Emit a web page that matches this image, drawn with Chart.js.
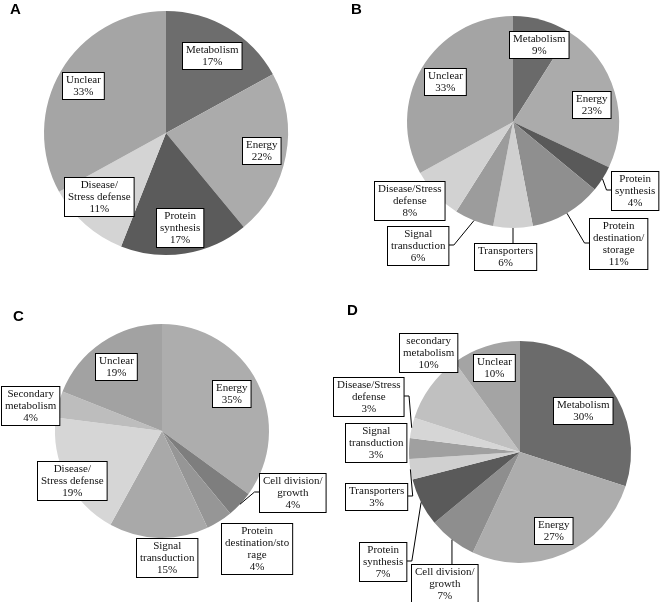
<!DOCTYPE html>
<html>
<head>
<meta charset="utf-8">
<script src="https://cdn.jsdelivr.net/npm/chart.js@4.4.1/dist/chart.umd.min.js"></script>
<style>
  body { margin: 0; background: #fff; }
  #wrap { position: relative; width: 660px; height: 602px; }
  .panel { position: absolute; }
  .tag { position: absolute; font: bold 15px "Liberation Sans", Arial, sans-serif; color: #000; }
</style>
</head>
<body>
<div id="wrap">
  <div class="panel" style="left:0;top:0;width:330px;height:301px"><canvas id="chartA"></canvas></div>
  <div class="panel" style="left:330px;top:0;width:330px;height:301px"><canvas id="chartB"></canvas></div>
  <div class="panel" style="left:0;top:301px;width:330px;height:301px"><canvas id="chartC"></canvas></div>
  <div class="panel" style="left:330px;top:301px;width:330px;height:301px"><canvas id="chartD"></canvas></div>
  <div class="tag" style="left:10px;top:0px">A</div>
  <div class="tag" style="left:351px;top:0px">B</div>
  <div class="tag" style="left:13px;top:307px">C</div>
  <div class="tag" style="left:347px;top:301px">D</div>
</div>
<script>
// ---- data (percent of identified proteins) ----
const catsA = ['Metabolism', 'Energy', 'Protein\nsynthesis', 'Disease/\nStress defense', 'Unclear'];
const valsA = [17, 22, 17, 11, 33];

const catsB = ['Metabolism', 'Energy', 'Protein\nsynthesis', 'Protein\ndestination/\nstorage', 'Transporters',
  'Signal\ntransduction', 'Disease/Stress\ndefense', 'Unclear'];
const valsB = [9, 23, 4, 11, 6, 6, 8, 33];

const catsC = ['Energy', 'Cell division/\ngrowth', 'Protein\ndestination/sto\nrage', 'Signal\ntransduction',
  'Disease/\nStress defense', 'Secondary\nmetabolism', 'Unclear'];
const valsC = [35, 4, 4, 15, 19, 4, 19];

const catsD = ['Metabolism', 'Energy', 'Cell division/\ngrowth', 'Protein\nsynthesis', 'Transporters',
  'Signal\ntransduction', 'Disease/Stress\ndefense', 'secondary\nmetabolism', 'Unclear'];
const valsD = [30, 27, 7, 7, 3, 3, 3, 10, 10];

// ---- styling ----
const greysA = ['#6d6d6d', '#ababab', '#5b5b5b', '#d4d4d4', '#a5a5a5'];
const greysB = ['#6a6a6a', '#ababab', '#595959', '#8f8f8f', '#d0d0d0', '#9c9c9c', '#d2d2d2', '#a4a4a4'];
const greysC = ['#adadad', '#7e7e7e', '#969696', '#a9a9a9', '#d6d6d6', '#bdbdbd', '#a2a2a2'];
const greysD = ['#6b6b6b', '#adadad', '#8e8e8e', '#5a5a5a', '#d0d0d0', '#a0a0a0', '#d6d6d6', '#c0c0c0', '#a4a4a4'];

// box centre offsets from the pie centre, and whether a leader line is drawn
const placeA = [[46, -78], [95, 17], [14, 94], [-67, 63], [-83, -48]];
const placeB = [[26, -78], [78, -18], [122, 68, 1], [105, 121, 1], [-8, 134, 1], [-95, 123, 1], [-104, 78], [-68, -41]];
const placeC = [[69, -38], [130, 61, 1], [95, 117], [5, 126], [-90, 49], [-132, -26], [-46, -65]];
const placeD = [[63, -42], [33, 78], [-76, 131, 1], [-137, 109, 1], [-144, 44, 1], [-144, -10], [-152, -56, 1], [-92, -100], [-26, -85]];

const FONT = '11px "Liberation Serif", "Times New Roman", serif';
const LINE_H = 12;

const boxLabels = {
  id: 'boxLabels',
  afterDatasetsDraw(chart, args, opts) {
    const ctx = chart.ctx;
    const meta = chart.getDatasetMeta(0);
    const ds = chart.data.datasets[0];
    ctx.save();
    ctx.font = FONT;
    meta.data.forEach((arc, i) => {
      const p = opts.place[i];
      const lines = chart.data.labels[i].split('\n').concat([ds.data[i] + '%']);
      const w = Math.max(...lines.map(l => ctx.measureText(l).width)) + 7;
      const h = lines.length * LINE_H + 3;
      const cx = arc.x + p[0], cy = arc.y + p[1];
      const bx = Math.max(0, Math.round(cx - w / 2)) + 0.5, by = Math.round(cy - h / 2) + 0.5;
      const tx = bx + w / 2;
      if (p[2]) {
        const mid = (arc.startAngle + arc.endAngle) / 2;
        const sx = arc.x + Math.cos(mid) * arc.outerRadius;
        const sy = arc.y + Math.sin(mid) * arc.outerRadius;
        let ex, ey, kx, ky;
        if (sx < bx) { ex = bx; ey = cy; kx = ex - 5; ky = ey; }
        else if (sx > bx + w) { ex = bx + w; ey = cy; kx = ex + 5; ky = ey; }
        else { ex = sx; ey = by; kx = ex; ky = ey; }
        ctx.beginPath();
        ctx.strokeStyle = '#000';
        ctx.lineWidth = 1;
        ctx.moveTo(sx, sy);
        ctx.lineTo(kx, ky);
        ctx.lineTo(ex, ey);
        ctx.stroke();
      }
      ctx.fillStyle = '#fff';
      ctx.fillRect(bx, by, w, h);
      ctx.strokeStyle = '#000';
      ctx.lineWidth = 1;
      ctx.strokeRect(bx, by, w, h);
      ctx.fillStyle = '#111';
      ctx.textAlign = 'center';
      ctx.textBaseline = 'middle';
      lines.forEach((l, k) => {
        ctx.fillText(l, tx, by + 2 + LINE_H / 2 + k * LINE_H);
      });
    });
    ctx.restore();
  }
};

// pie centre (within the panel) and radius
function makePie(id, cats, vals, greys, place, cx, cy, r) {
  const W = 330, H = 301;
  new Chart(document.getElementById(id), {
    type: 'pie',
    data: {
      labels: cats,
      datasets: [{ data: vals, backgroundColor: greys, borderWidth: 0 }]
    },
    options: {
      responsive: true,
      maintainAspectRatio: false,
      animation: false,
      layout: { padding: { left: cx - r, right: W - cx - r, top: cy - r, bottom: H - cy - r } },
      plugins: {
        legend: { display: false },
        tooltip: { enabled: false },
        boxLabels: { place: place }
      }
    },
    plugins: [boxLabels]
  });
}

makePie('chartA', catsA, valsA, greysA, placeA, 166, 133, 122);
makePie('chartB', catsB, valsB, greysB, placeB, 183, 122, 106);
makePie('chartC', catsC, valsC, greysC, placeC, 162, 130, 107);
makePie('chartD', catsD, valsD, greysD, placeD, 190, 151, 111);
</script>
</body>
</html>
